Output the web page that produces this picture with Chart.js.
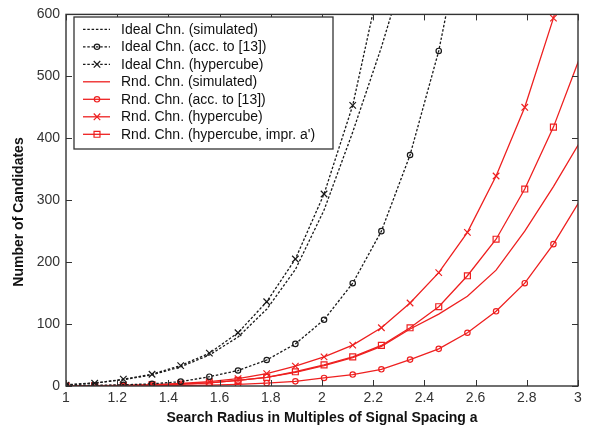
<!DOCTYPE html>
<html>
<head>
<meta charset="utf-8">
<script src="https://cdn.jsdelivr.net/npm/chart.js@4.4.1/dist/chart.umd.min.js"></script>
<style>
  html, body { margin: 0; padding: 0; background: #fff; }
  #wrap { width: 592px; height: 430px; position: relative; }
</style>
</head>
<body>
<div id="wrap"><canvas id="chart" width="592" height="430"></canvas></div>
<script>
// search radius (multiples of a) where the curves were sampled
const radius = [1, 1.112, 1.224, 1.336, 1.448, 1.56, 1.672, 1.784, 1.896, 2.008,
                2.12, 2.232, 2.344, 2.456, 2.568, 2.68, 2.792, 2.904, 3.016];

// number of candidates
const idealSim   = [2, 5, 10, 18, 31, 50, 79, 124, 188, 284, 410, 547, 700];
const idealAcc13 = [0.5, 1, 2, 3.5, 7, 15, 25, 42, 68, 107, 166, 250, 373, 541, 770];
const idealCube  = [1.5, 4.5, 11, 19, 33, 53, 86, 136, 205, 310, 453, 665];
const rndSim     = [0, 0.3, 0.7, 1.5, 3, 5, 9, 14, 22, 33, 46, 64, 92, 116, 145, 187, 250, 322, 400];
const rndAcc13   = [0, 0.1, 0.3, 0.5, 0.8, 1.5, 2.5, 4.5, 7.5, 13, 18.5, 27, 42.6, 60, 86, 120.6, 166, 229, 305];
const rndCube    = [0, 0.5, 1, 2, 4, 7, 12, 20, 32, 47, 66, 94, 134, 183, 248, 339, 450, 594, 780];
const rndCubeA   = [0, 0.3, 0.7, 1.5, 3, 5, 9, 14, 23, 34, 47, 65.5, 94, 128, 178, 237, 318, 418, 540];

const xTicks = [1, 1.2, 1.4, 1.6, 1.8, 2, 2.2, 2.4, 2.6, 2.8, 3];
const yTicks = [0, 100, 200, 300, 400, 500, 600];

const labels = ['Ideal Chn. (simulated)', 'Ideal Chn. (acc. to [13])', 'Ideal Chn. (hypercube)',
                'Rnd. Chn. (simulated)', 'Rnd. Chn. (acc. to [13])', 'Rnd. Chn. (hypercube)',
                'Rnd. Chn. (hypercube, impr. a\')'];

const BLACK = '#1a1a1a';
const RED = 'rgb(238,32,32)';
const FONT = 'Arial, "Liberation Sans", sans-serif';
// marker sizes per point style (Chart.js radius)
const MARK = {circle: 2.7, crossRot: 4.6, rect: 4.2};

function pts(vals){
  return vals.map((v, i) => ({x: radius[i], y: v}));
}

function series(label, vals, ideal, style){
  return {
    label: label,
    data: pts(vals),
    borderColor: ideal ? BLACK : RED,
    borderWidth: ideal ? 1.3 : 1.3,
    borderDash: ideal ? [2.5, 1.8] : [],
    pointStyle: style || false,
    pointRadius: style ? MARK[style] : 0,
    pointBorderWidth: 1.2,
    pointBorderColor: ideal ? BLACK : RED,
    pointBackgroundColor: 'rgba(0,0,0,0)',
    tension: 0,
    fill: false
  };
}

const datasets = [
  series(labels[0], idealSim, true, null),
  series(labels[1], idealAcc13, true, 'circle'),
  series(labels[2], idealCube, true, 'crossRot'),
  series(labels[3], rndSim, false, null),
  series(labels[4], rndAcc13, false, 'circle'),
  series(labels[5], rndCube, false, 'crossRot'),
  series(labels[6], rndCubeA, false, 'rect')
];

// gnuplot style box with inward mirrored ticks, plus y title
const framePlugin = {
  id: 'frame',
  afterDatasetsDraw(chart){
    const {ctx, chartArea: a, scales} = chart;
    ctx.save();
    ctx.strokeStyle = '#333';
    ctx.lineWidth = 1;
    ctx.setLineDash([]);
    xTicks.forEach(v => {
      const x = Math.round(scales.x.getPixelForValue(v)) + 0.5;
      ctx.beginPath();
      ctx.moveTo(x, a.bottom); ctx.lineTo(x, a.bottom - 6);
      ctx.moveTo(x, a.top); ctx.lineTo(x, a.top + 6);
      ctx.stroke();
    });
    yTicks.forEach(v => {
      const y = Math.round(scales.y.getPixelForValue(v)) + 0.5;
      ctx.beginPath();
      ctx.moveTo(a.left, y); ctx.lineTo(a.left + 6, y);
      ctx.moveTo(a.right, y); ctx.lineTo(a.right - 6, y);
      ctx.stroke();
    });
    ctx.lineWidth = 1.4;
    ctx.strokeRect(a.left, a.top, a.right - a.left, a.bottom - a.top);

    ctx.translate(19, 212);
    ctx.rotate(-Math.PI / 2);
    ctx.fillStyle = '#111';
    ctx.font = 'bold 14px ' + FONT;
    ctx.textAlign = 'center';
    ctx.textBaseline = 'middle';
    ctx.fillText('Number of Candidates', 0, 0);
    ctx.restore();
  }
};

// legend box inside the plot, top left
const legendPlugin = {
  id: 'boxLegend',
  afterDraw(chart){
    const ctx = chart.ctx;
    const bx = 74, by = 17, bw = 259, bh = 132, row = 17.5;
    ctx.save();
    ctx.fillStyle = '#fff';
    ctx.fillRect(bx, by, bw, bh);
    ctx.strokeStyle = '#333';
    ctx.lineWidth = 1.3;
    ctx.strokeRect(bx, by, bw, bh);
    chart.data.datasets.forEach((ds, i) => {
      const y = by + 12.3 + i * row;
      ctx.strokeStyle = ds.borderColor;
      ctx.lineWidth = ds.borderWidth;
      ctx.setLineDash(ds.borderDash);
      ctx.beginPath();
      ctx.moveTo(83, y); ctx.lineTo(110, y);
      ctx.stroke();
      ctx.setLineDash([]);
      if (ds.pointStyle){
        ctx.lineWidth = ds.pointBorderWidth;
        ctx.strokeStyle = ds.pointBorderColor;
        ctx.fillStyle = 'rgba(0,0,0,0)';
        Chart.helpers.drawPoint(ctx, {pointStyle: ds.pointStyle, radius: ds.pointRadius, borderWidth: ds.pointBorderWidth, rotation: 0}, 97, y);
      }
      ctx.fillStyle = '#111';
      ctx.font = '14px ' + FONT;
      ctx.textBaseline = 'middle';
      ctx.textAlign = 'left';
      ctx.fillText(ds.label, 121, y + 0.5);
    });
    ctx.restore();
  }
};

new Chart(document.getElementById('chart'), {
  type: 'line',
  data: {datasets},
  plugins: [framePlugin, legendPlugin],
  options: {
    responsive: false,
    animation: false,
    events: [],
    layout: {padding: {top: 7, right: 14, left: 0, bottom: 0}},
    plugins: {legend: {display: false}, tooltip: {enabled: false}},
    scales: {
      x: {
        type: 'linear', min: 1, max: 3,
        grid: {display: false, drawTicks: false},
        border: {display: false},
        afterBuildTicks: s => { s.ticks = xTicks.map(v => ({value: v})); },
        ticks: {padding: 4, color: '#333', font: {family: FONT, size: 14}, maxRotation: 0, autoSkip: false,
                callback: v => String(v)},
        title: {display: true, text: 'Search Radius in Multiples of Signal Spacing a', color: '#111',
                font: {family: FONT, size: 14, weight: 'bold'}, padding: {top: 0, bottom: 3}},
        afterFit: s => { s.height = 44; }
      },
      y: {
        min: 0, max: 600,
        grid: {display: false, drawTicks: false},
        border: {display: false},
        afterBuildTicks: s => { s.ticks = yTicks.map(v => ({value: v})); },
        ticks: {padding: 6, color: '#333', font: {family: FONT, size: 14}, callback: v => String(v)},
        title: {display: false},
        afterFit: s => { s.width = 66; }
      }
    }
  }
});
</script>
</body>
</html>
